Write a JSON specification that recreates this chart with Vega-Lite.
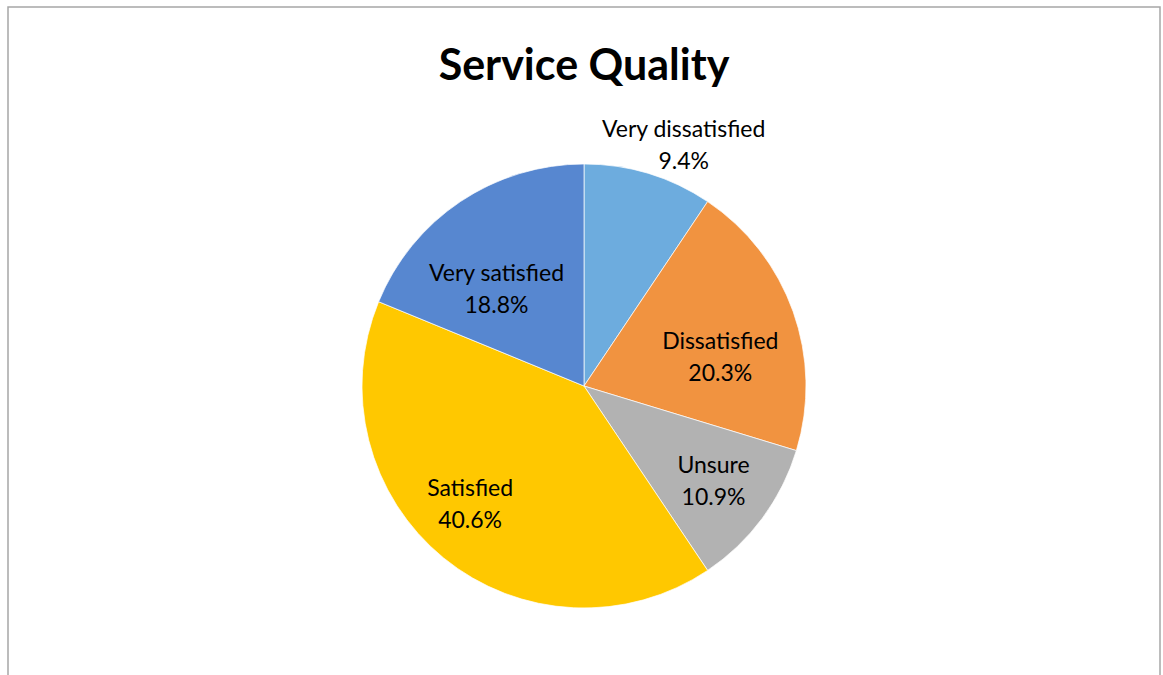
{
  "$schema": "https://vega.github.io/schema/vega-lite/v6.json",
  "autosize": {"type": "none"},
  "width": 1152,
  "height": 758,
  "padding": {"left": 8, "top": 7, "right": 3, "bottom": 0},
  "background": "white",
  "view": {"stroke": "#a6a6a6", "strokeWidth": 1.5},
  "config": {"view": {"stroke": "#a6a6a6", "strokeWidth": 1.5}},
  "title": {
    "text": "Service Quality",
    "font": "Lato",
    "fontSize": 43,
    "fontWeight": "bold",
    "color": "#000000",
    "anchor": "middle",
    "orient": "top",
    "baseline": "alphabetic",
    "offset": -116
  },
  "data": {
    "values": [
      {"i": 1, "cat": "Very dissatisfied", "pct": 9.4},
      {"i": 2, "cat": "Dissatisfied", "pct": 20.3},
      {"i": 3, "cat": "Unsure", "pct": 10.9},
      {"i": 4, "cat": "Satisfied", "pct": 40.6},
      {"i": 5, "cat": "Very satisfied", "pct": 18.8}
    ]
  },
  "transform": [
    {"calculate": "datum.cat + '\\n' + format(datum.pct, '.1f') + '%'", "as": "label"}
  ],
  "encoding": {
    "theta": {"field": "pct", "type": "quantitative", "stack": true},
    "order": {"field": "i", "type": "quantitative"}
  },
  "layer": [
    {
      "mark": {"type": "arc", "outerRadius": 222, "stroke": "white", "strokeWidth": 0.7},
      "encoding": {
        "color": {
          "field": "cat",
          "type": "nominal",
          "scale": {
            "domain": ["Very dissatisfied", "Dissatisfied", "Unsure", "Satisfied", "Very satisfied"],
            "range": ["#6dacde", "#f19340", "#b2b2b2", "#ffc800", "#5787d0"]
          },
          "legend": null
        }
      }
    },
    {
      "mark": {
        "type": "text",
        "radius": 150,
        "font": "Lato",
        "fontSize": 23,
        "lineHeight": 32,
        "lineBreak": "\n",
        "align": "center",
        "baseline": "middle",
        "color": "#000000",
        "dx": {"expr": "datum.cat === 'Very dissatisfied' ? 56 : datum.cat === 'Dissatisfied' ? -5 : datum.cat === 'Unsure' ? 9 : datum.cat === 'Satisfied' ? -19 : -4"},
        "dy": {"expr": "datum.cat === 'Very dissatisfied' ? -112 : datum.cat === 'Dissatisfied' ? 6 : datum.cat === 'Unsure' ? -9 : datum.cat === 'Satisfied' ? -13 : 13"}
      },
      "encoding": {
        "text": {"field": "label", "type": "nominal"}
      }
    }
  ]
}
